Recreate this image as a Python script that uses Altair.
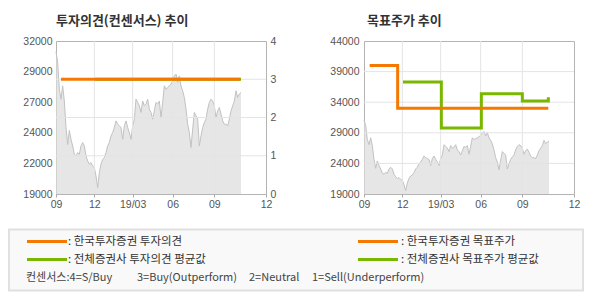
import altair as alt
import pandas as pd

# ---------------- data ----------------
# closing price, one value every ~2.6 trading days (Sep 2018 -> late Nov 2019)
price = [31100, 30180, 27900, 27060, 28190, 26900, 24650, 23200, 24400, 23650,
         23080, 22380, 22230, 22520, 22380, 23080, 23370, 23080,
         22230, 21810, 21530, 21670, 21380, 21250, 20530, 19540,
         20820, 21530, 21950, 22100, 22520, 23080, 23370, 23940,
         24220, 24650, 25210, 24930, 24790, 24650, 23650, 24790,
         25210, 24650, 24220, 23650, 24790, 25360, 27060, 26780,
         26490, 25930, 26900, 26490,
         26630, 27060, 26210, 25930, 25360, 26060, 26780, 26630, 26900, 25500,
         26780, 28190, 27910, 28050, 28190, 28340, 28620, 29040, 29190, 28480,
         29040, 28190, 27770, 27200, 26210, 24930, 24220, 22950, 24510, 25930,
         25640, 25360, 23080, 23940, 24650, 25080, 25360, 26210, 26780, 27060,
         26900, 26490, 25500, 26060, 26350, 25790, 25210, 24930, 24930, 24790,
         25360, 26060, 26490, 26900, 27770, 27200, 27490, 27630]

# x-axis ticks (position index) and labels
tick_pos = [0, 23, 46, 70, 95, 126]
tick_lab = ["09", "12", "19/03", "06", "09", "12"]

# investment opinion (1..4)
op_kis_x = [3, 110.6]
op_kis_y = [3, 3]
op_avg_x = [23.4, 111]
op_avg_y = [3, 3]

# target price
tp_kis_x = [3.4, 20.2, 110.6]
tp_kis_y = [40000, 33000, 33000]
tp_avg_x = [23.4, 46.4, 70.4, 95, 110.6]
tp_avg_y = [37300, 29800, 35400, 34200, 34800]

price_ticks_left = [19000, 21600, 24200, 26800, 29400, 32000]
price_ticks_right = [19000, 24000, 29000, 34000, 39000, 44000]
op_ticks = [0, 1, 2, 3, 4]

title_left = "투자의견(컨센서스) 추이"
title_right = "목표주가 추이"
legend_left = [": 한국투자증권 투자의견", ": 전체증권사 투자의견 평균값"]
legend_right = [": 한국투자증권 목표주가", ": 전체증권사 목표주가 평균값"]
consensus = ["컨센서스:4=S/Buy", "3=Buy(Outperform)", "2=Neutral", "1=Sell(Underperform)"]

# ---------------- style ----------------
FONT_KR = "Noto Sans CJK KR"
FONT_NUM = "Liberation Sans"
ORANGE = "#f57800"
GREEN = "#7ab800"
AREA = "#dcdcdc"
AREA_LINE = "#c2c2c2"
GRID = "#e4e4e4"
FRAME = "#b4b4b4"
LABEL = "#555555"
W, H = 210, 153

price_df = pd.DataFrame({"idx": list(range(len(price))), "price": price})

lab_expr = " : ".join(
    f"datum.value == {p} ? '{l}'" for p, l in zip(tick_pos, tick_lab)) + " : ''"

x_scale = alt.Scale(domain=[tick_pos[0], tick_pos[-1]], nice=False, zero=False)
x_axis = alt.Axis(values=tick_pos, labelExpr=lab_expr, grid=False, domain=False,
                  ticks=True, tickSize=3, tickColor="#aaaaaa", labelColor=LABEL,
                  labelFont=FONT_NUM, labelFontSize=10.5, labelPadding=2,
                  labelFlush=False, title=None)


def X(field):
    return alt.X(field, type="quantitative", scale=x_scale, axis=x_axis)


def one():
    return alt.Data(values=[{"k": 0}])


def make_title(t, dx=0):
    return alt.TitleParams(t, anchor="start", frame="group", font=FONT_KR,
                           fontSize=13, fontWeight="bold", color="#333333",
                           offset=8, dx=dx)


# ---------------- left chart ----------------
pl_scale = alt.Scale(domain=[19000, 32000], nice=False, zero=False)
pl_axis = alt.Axis(values=price_ticks_left,
                   labelExpr="format(round(datum.value/1000)*1000, 'd')",
                   grid=False, ticks=False, domain=False, labelPadding=4,
                   labelColor=LABEL, labelFont=FONT_NUM, labelFontSize=10.5,
                   title=None)
area_l = alt.Chart(price_df).mark_area(
    color=AREA, line={"color": AREA_LINE, "strokeWidth": 1}
).encode(x=X("idx"), y=alt.Y("price:Q", scale=pl_scale, axis=pl_axis),
         y2=alt.datum(19000))

op_scale = alt.Scale(domain=[0, 4], nice=False, zero=False)
op_axis = alt.Axis(orient="right", values=op_ticks, format="d", grid=False,
                   ticks=False, domain=False, labelPadding=4, labelColor=LABEL,
                   labelFont=FONT_NUM, labelFontSize=10.5, title=None)

vgrid_df = pd.DataFrame({"g": tick_pos[1:-1]})
vgrid_l = alt.Chart(vgrid_df).mark_rule(color=GRID, strokeWidth=1).encode(x=X("g"))
hgrid_l = alt.Chart(pd.DataFrame({"v": op_ticks[1:-1]})).mark_rule(
    color=GRID, strokeWidth=1).encode(y=alt.Y("v:Q", scale=op_scale, axis=op_axis))
op_avg = alt.Chart(pd.DataFrame({"x": op_avg_x, "y": op_avg_y})).mark_line(
    color=GREEN, strokeWidth=3).encode(x=X("x"), y=alt.Y("y:Q", scale=op_scale, axis=op_axis))
op_kis = alt.Chart(pd.DataFrame({"x": op_kis_x, "y": op_kis_y})).mark_line(
    color=ORANGE, strokeWidth=3).encode(x=X("x"), y=alt.Y("y:Q", scale=op_scale, axis=op_axis))
inner_l = alt.layer(hgrid_l, op_avg, op_kis)

# legend box (drawn in the left panel, below both charts)
box = alt.Chart(one()).mark_rect(fill="#f9f9f9", stroke="#e0e0e0", strokeWidth=2).encode(
    x=alt.value(-47), x2=alt.value(527), y=alt.value(188.5), y2=alt.value(249.5))
leg_layers = [box]
for col_x, col_tx, labels in ((-29, 12, legend_left), (302, 345, legend_right)):
    for yy, col, lab in ((200.5, ORANGE, labels[0]), (218.5, GREEN, labels[1])):
        leg_layers.append(alt.Chart(one()).mark_rule(color=col, strokeWidth=3).encode(
            x=alt.value(col_x), x2=alt.value(col_x + 40), y=alt.value(yy)))
        leg_layers.append(alt.Chart(one()).mark_text(
            text=lab, align="left", baseline="middle", font=FONT_KR, fontSize=11.5,
            color="#333333").encode(x=alt.value(col_tx), y=alt.value(yy)))
for cx, part in zip((-30, 81, 193, 256), consensus):
    leg_layers.append(alt.Chart(one()).mark_text(
        text=part, align="left", baseline="middle", font=FONT_KR, fontSize=11,
        color="#444444").encode(x=alt.value(cx), y=alt.value(236.5)))

left = alt.layer(area_l, vgrid_l, inner_l, *leg_layers).resolve_scale(
    y="independent").properties(width=W, height=H, title=make_title(title_left))

# ---------------- right chart ----------------
pr_scale = alt.Scale(domain=[19000, 44000], nice=False, zero=False)
pr_axis = alt.Axis(values=price_ticks_right, format="d", grid=False, ticks=False,
                   domain=False, labelPadding=5, labelColor=LABEL,
                   labelFont=FONT_NUM, labelFontSize=10.5, title=None)


def YR(field):
    return alt.Y(field, type="quantitative", scale=pr_scale, axis=pr_axis)


area_r = alt.Chart(price_df).mark_area(
    color=AREA, line={"color": AREA_LINE, "strokeWidth": 1}
).encode(x=X("idx"), y=YR("price"), y2=alt.datum(19000))
vgrid_r = alt.Chart(vgrid_df).mark_rule(color=GRID, strokeWidth=1).encode(x=X("g"))
hgrid_r = alt.Chart(pd.DataFrame({"v": price_ticks_right[1:-1]})).mark_rule(
    color=GRID, strokeWidth=1).encode(y=YR("v"))
tp_avg = alt.Chart(pd.DataFrame({"x": tp_avg_x, "y": tp_avg_y})).mark_line(
    color=GREEN, strokeWidth=3, interpolate="step-after").encode(x=X("x"), y=YR("y"))
tp_kis = alt.Chart(pd.DataFrame({"x": tp_kis_x, "y": tp_kis_y})).mark_line(
    color=ORANGE, strokeWidth=3, interpolate="step-after").encode(x=X("x"), y=YR("y"))

right = alt.layer(area_r, vgrid_r, hgrid_r, tp_avg, tp_kis).properties(
    width=W, height=H, title=make_title(title_right, dx=3))

chart = alt.hconcat(left, right, spacing=98, bounds="flush").properties(
    padding={"left": 7, "top": 14, "right": 5, "bottom": 5},
    background="white",
).configure_view(stroke=FRAME, strokeWidth=1)

chart.save("out.html", embed_options={"renderer": "svg", "actions": False})
